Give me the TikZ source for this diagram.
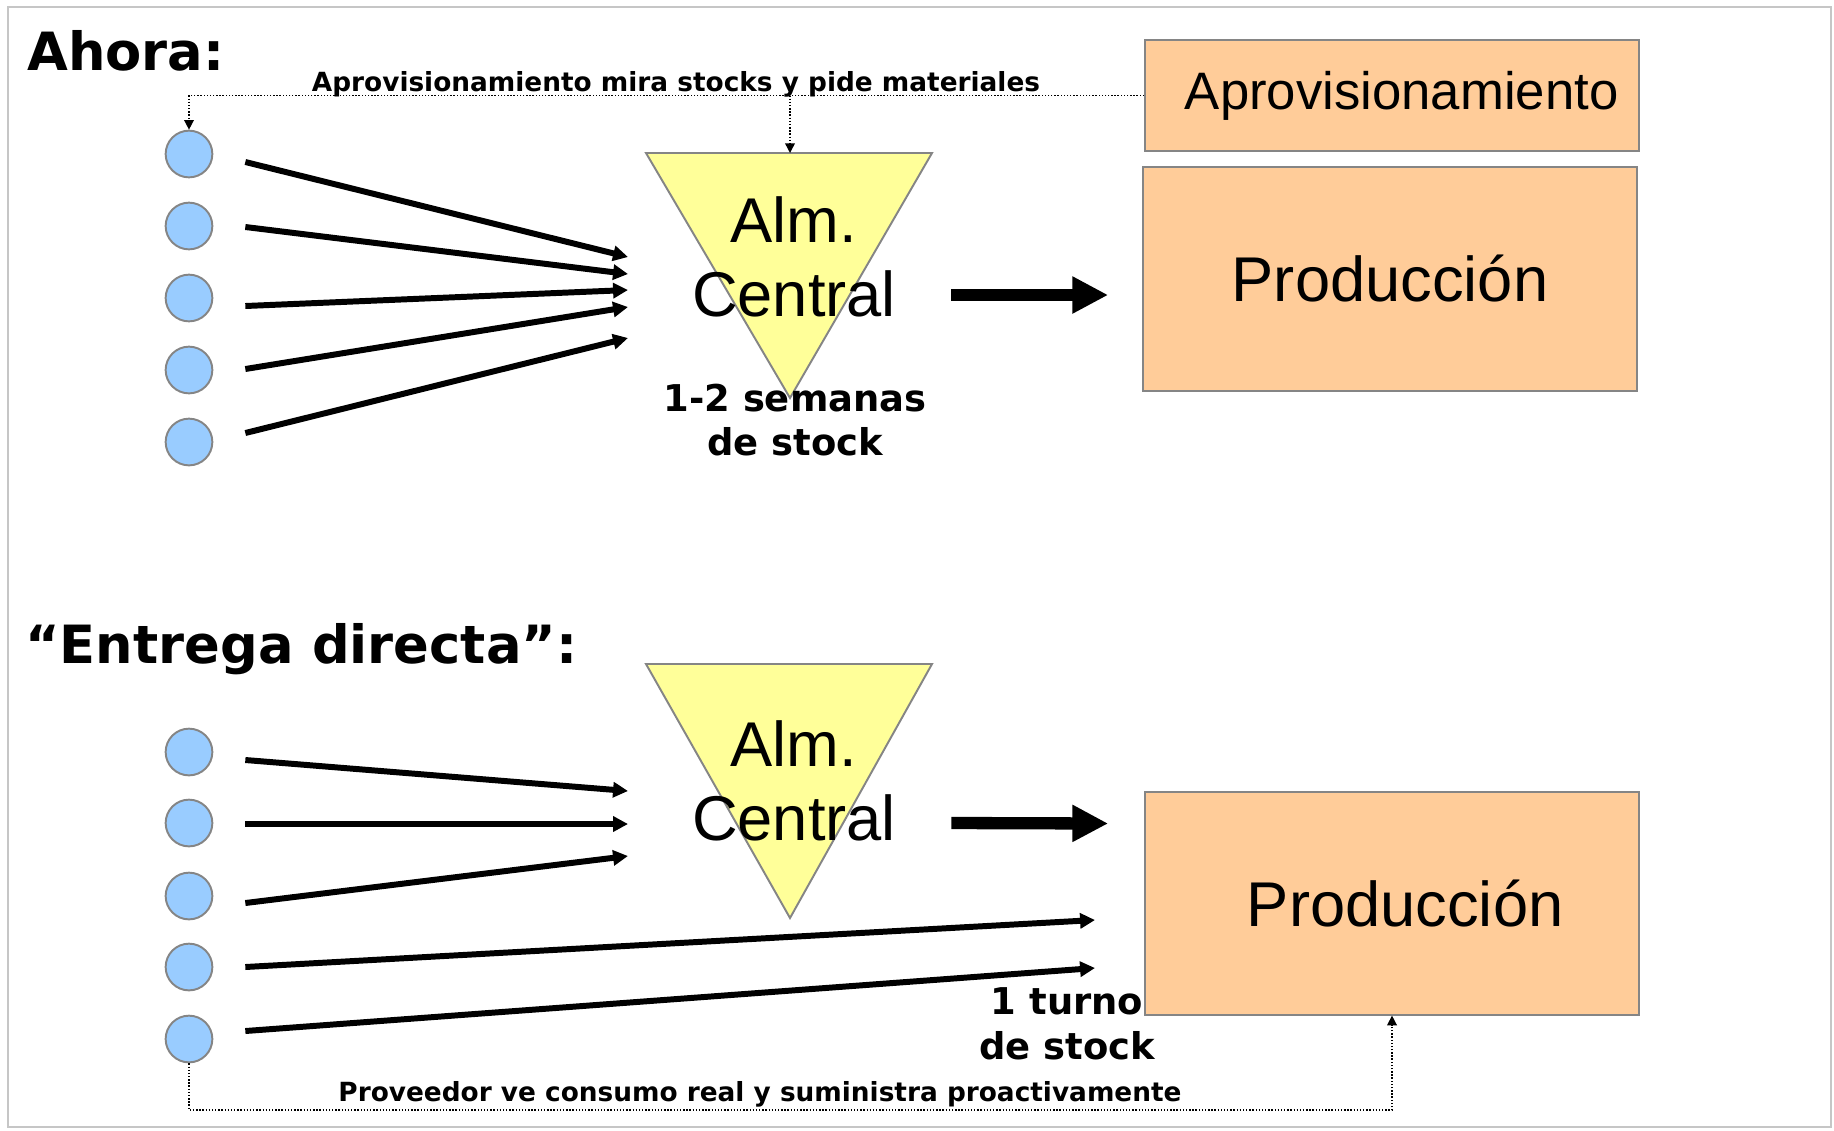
\documentclass[tikz,border=0pt]{standalone}
\usepackage{fontspec}
\setmainfont{DejaVu Sans}
\newfontfamily\arialfont{Liberation Sans}
\usetikzlibrary{calc}
\usetikzlibrary{arrows.meta}
\definecolor{azul}{HTML}{99CCFF}
\definecolor{amarillo}{HTML}{FFFF99}
\definecolor{naranja}{HTML}{FFCC99}
\definecolor{borde}{HTML}{858585}
\tikzset{prov/.style={circle,draw=borde,fill=azul,line width=1.1pt,minimum size=26.6pt,inner sep=0pt}}
\tikzset{caja/.style={draw=borde,fill=naranja,line width=1.1pt,font=\arialfont\fontsize{36}{42}\selectfont}}
\tikzset{alm/.style={draw=borde,fill=amarillo,line width=1.1pt}}
\tikzset{flecha/.style={line width=3.4pt,-{Triangle[length=8.5pt,width=8.5pt]}}}
\tikzset{flechona/.style={line width=7pt,-{Triangle[length=20.4pt,width=19.8pt]}}}
\tikzset{aviso/.style={densely dotted,line width=0.8pt,-{Triangle[length=5.5pt,width=5.5pt]}}}
\tikzset{titulo/.style={font=\bfseries\fontsize{30}{36}\selectfont,inner sep=0pt}}
\tikzset{nota/.style={font=\bfseries\fontsize{15}{18}\selectfont,inner sep=0pt}}
\tikzset{dias/.style={font=\bfseries\fontsize{21}{25.5}\selectfont,align=center,inner sep=0pt}}
\tikzset{texalm/.style={font=\arialfont\fontsize{36}{42.5}\selectfont,align=center,inner sep=0pt}}

\begin{document}
\begin{tikzpicture}[x=0.02cm,y=-0.02cm]
	\useasboundingbox (0,0) rectangle (1834,1130);
	\draw [gray!45,line width=1.2pt] (8,7) rectangle (1831,1127);

	% Ahora
	\node [titulo,anchor=base west] (T1) at (27,70) {Ahora:};
	\node [prov] (A1) at (189,154) {};
	\node [prov] (A2) at (189,226) {};
	\node [prov] (A3) at (189,298) {};
	\node [prov] (A4) at (189,370) {};
	\node [prov] (A5) at (189,442) {};

	\filldraw [alm] (646,153) -- (932,153) -- (790,398) -- cycle;
	\coordinate (AlmA) at (790,153);
	\node [texalm] (CA) at (794,257) {Alm.\\Central};
	\node [dias] (SA) at (795,420) {1-2 semanas\\de stock};

	\node [caja,minimum width=281pt,minimum height=63pt,font=\arialfont\fontsize{30}{36}\selectfont] (Aprov) at (1392,95.5) {\hspace*{11pt}Aprovisionamiento};
	\node [caja,minimum width=281pt,minimum height=127pt] (ProdA) at (1390,279) {Producción};

	\coordinate (fA1) at (628,257);
	\coordinate (fA2) at (628,274);
	\coordinate (fA3) at (628,290);
	\coordinate (fA4) at (628,307);
	\coordinate (fA5) at (628,338);
	\draw [flecha] ($(A1.east)+(32,8)$) -- (fA1);
	\draw [flecha] ($(A2.east)+(32,1)$) -- (fA2);
	\draw [flecha] ($(A3.east)+(32,8)$) -- (fA3);
	\draw [flecha] ($(A4.east)+(32,-1)$) -- (fA4);
	\draw [flecha] ($(A5.east)+(32,-9)$) -- (fA5);
	\draw [flechona] ($(CA.east)+(55,38)$) -- ($(ProdA.west)+(-34,16)$);

	% Aviso de aprovisionamiento
	\node [nota,anchor=base] (NA) at (676,91) {Aprovisionamiento mira stocks y pide materiales};
	\draw [aviso] (Aprov.west) -| (A1);
	\draw [aviso] (AlmA |- Aprov.west) -- (AlmA);

	% Entrega directa
	\node [titulo,anchor=base west] (T2) at (25,663) {“Entrega directa”:};
	\node [prov] (B1) at (189,752) {};
	\node [prov] (B2) at (189,823) {};
	\node [prov] (B3) at (189,896) {};
	\node [prov] (B4) at (189,967) {};
	\node [prov] (B5) at (189,1039) {};

	\filldraw [alm] (646,664) -- (932,664) -- (790,918) -- cycle;
	\node [texalm] (CB) at (794,781) {Alm.\\Central};

	\node [caja,minimum width=281pt,minimum height=126.5pt] (ProdB) at (1392,903.5) {\hspace*{15pt}Producción};
	\node [dias] (SB) at (1067,1024) {1 turno\\de stock};

	\coordinate (fB1) at (628,791);
	\coordinate (fB2) at (628,824);
	\coordinate (fB3) at (628,856);
	\coordinate (fB4) at (1095,920);
	\coordinate (fB5) at (1095,968);
	\draw [flecha] ($(B1.east)+(32,8)$) -- (fB1);
	\draw [flecha] ($(B2.east)+(32,1)$) -- (fB2);
	\draw [flecha] ($(B3.east)+(32,7)$) -- (fB3);
	\draw [flecha] ($(B4.east)+(32,0)$) -- (fB4);
	\draw [flecha] ($(B5.east)+(32,-8)$) -- (fB5);
	\draw [flechona] ($(CB.east)+(55,42)$) -- ($(ProdB.west)+(-36,-80)$);

	% Aviso del proveedor
	\coordinate (esq) at (189,1110);
	\node [nota,anchor=base] (NB) at (760,1101) {Proveedor ve consumo real y suministra proactivamente};
	\draw [aviso] (B5.south) -- (esq) -| (ProdB.south);

\end{tikzpicture}
\end{document}
